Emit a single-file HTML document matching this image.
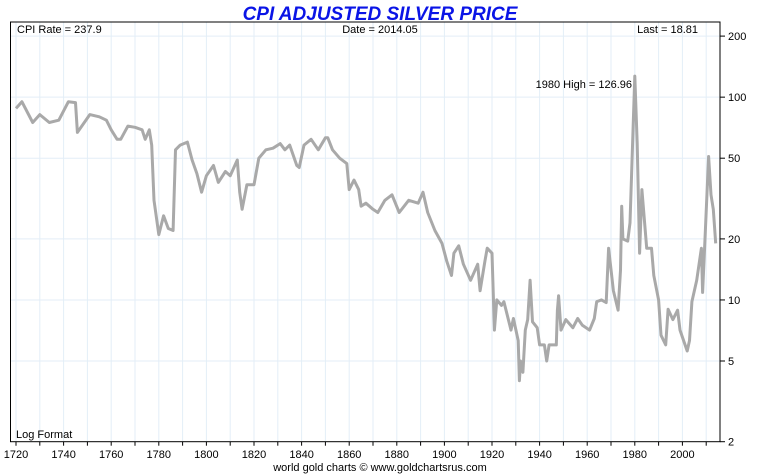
<!DOCTYPE html>
<html><head><meta charset="utf-8"><style>
body{margin:0;background:#fff;}
svg{display:block;font-family:"Liberation Sans",sans-serif;}
</style></head><body>
<svg id="c" width="760" height="475">
<text x="380" y="20" text-anchor="middle" font-size="19" font-weight="bold" font-style="italic" fill="#0a14e6">CPI ADJUSTED SILVER PRICE</text>
<g id="grid"></g>
<g id="axes"></g>
<text x="17" y="33" font-size="11">CPI Rate = 237.9</text>
<text x="380" y="33" font-size="11" text-anchor="middle">Date = 2014.05</text>
<text x="698" y="33" font-size="11" text-anchor="end">Last = 18.81</text>
<text x="16" y="438" font-size="11">Log Format</text>
<path id="line" fill="none" stroke="#a9a9a9" stroke-width="3" stroke-linejoin="round"></path>
<text x="632" y="88" font-size="11" text-anchor="end">1980 High = 126.96</text>
<text x="380" y="471" font-size="11" text-anchor="middle">world gold charts © www.goldchartsrus.com</text>
</svg>
<script>
const years=[1720,1722.5,1727,1730,1734,1738,1742,1745,1745.8,1751,1755,1758,1760,1762.5,1764,1767,1770,1773,1774.3,1776,1777,1778,1780,1782,1784,1786,1787,1789,1792,1794,1796,1798,1800,1803,1805,1808,1810,1813,1814,1815,1817,1820,1822,1825,1828,1831,1833,1835,1838,1839,1841,1844,1847,1850,1851,1853,1856,1859,1860,1862,1864,1865,1867,1870,1872,1875,1878,1881,1885,1889,1891,1893,1896,1899,1901,1903,1904,1906,1908,1911,1914,1915,1917,1918,1920,1921,1922,1924,1925,1928,1929,1931,1931.5,1932,1933,1934,1935,1936,1937,1939,1940,1942,1943,1944,1947,1947.5,1948,1949,1951,1954,1956,1958,1961,1963,1964,1966,1968,1969,1971,1973,1974,1974.5,1975,1977,1978,1980,1981,1982,1983,1985,1986,1987,1988,1990,1991,1993,1994,1996,1998,1999,2002,2003,2004,2006,2008,2008.5,2009.5,2011,2012,2013,2014];
const prices=[88,95,75,82,75,77,95,94,67,82,80,77,69,62,62,72,71,69,62,69,58,31,21,26,22.5,22,55,58,60,49,42,34,41,46,38,43,41,49,34,28,37,37,50,55,56,59,55,58,46,45,58,62,55,63,63,55,50,47,35,39,35,29,30,28,27,31,33,27,31,30,34,27,22,19,15.5,13.2,17,18.5,15,12.5,15,11.1,15.5,18,17,7.1,10,9.4,9.8,7.1,8.1,6.3,4.0,5.0,4.4,7.1,8.0,12.5,7.8,7.3,6.0,6.0,5.0,6.0,6.0,8.9,10.5,7.1,8,7.3,8.1,7.5,7.1,8.1,9.8,10,9.7,18,11.1,8.9,14,29,20,19.5,24,127,59,17,35,18,18,18,13.2,10,6.7,6,9,8,8.9,7.1,5.6,6.3,9.8,12.5,18,10.9,20,51,33,28,19];
const xTicks=[1720,1740,1760,1780,1800,1820,1840,1860,1880,1900,1920,1940,1960,1980,2000];
const yTicks=[2,5,10,20,50,100,200];
const L=10.5,R=720,T=22,B=441.7;
const xs=y=>16+(y-1720)*2.38;
const ys=v=>B-(Math.log10(v)-Math.log10(2))*202.8;
const NS="http://www.w3.org/2000/svg";
const g=document.getElementById('grid'),a=document.getElementById('axes');
function mk(p,tag,at){const e=document.createElementNS(NS,tag);for(const k in at)e.setAttribute(k,at[k]);p.appendChild(e);return e;}
for(let yr=1720;yr<=2010;yr+=10){const x=xs(yr);
 const gl=mk(g,'line',{x1:x,x2:x,y1:T,y2:B,stroke:'#e3eef7','stroke-width':1});
 
 
 mk(a,'line',{x1:x,x2:x,y1:B,y2:B+4,stroke:'#000','stroke-width':1});
}
xTicks.forEach(yr=>{const t=mk(a,'text',{x:xs(yr),y:458,'font-size':11,'text-anchor':'middle'});t.textContent=yr;
 
 });
yTicks.forEach(v=>{const y=ys(v);
 if(v>2){const gl=mk(g,'line',{x1:L,x2:R,y1:y,y2:y,stroke:'#e3eef7','stroke-width':1});
 
 }
 mk(a,'line',{x1:R,x2:R+5,y1:y,y2:y,stroke:'#000','stroke-width':1});
 const t=mk(a,'text',{x:R+8,y:y+4,'font-size':11});t.textContent=v;
 
 });
const fr=mk(a,'rect',{x:L,y:T,width:R-L,height:B-T,fill:'none',stroke:'#000','stroke-width':1});


document.getElementById('line').setAttribute('d',years.map((y,i)=>(i?'L':'M')+xs(y).toFixed(1)+','+ys(prices[i]).toFixed(1)).join(''));
</script>
</body></html>
